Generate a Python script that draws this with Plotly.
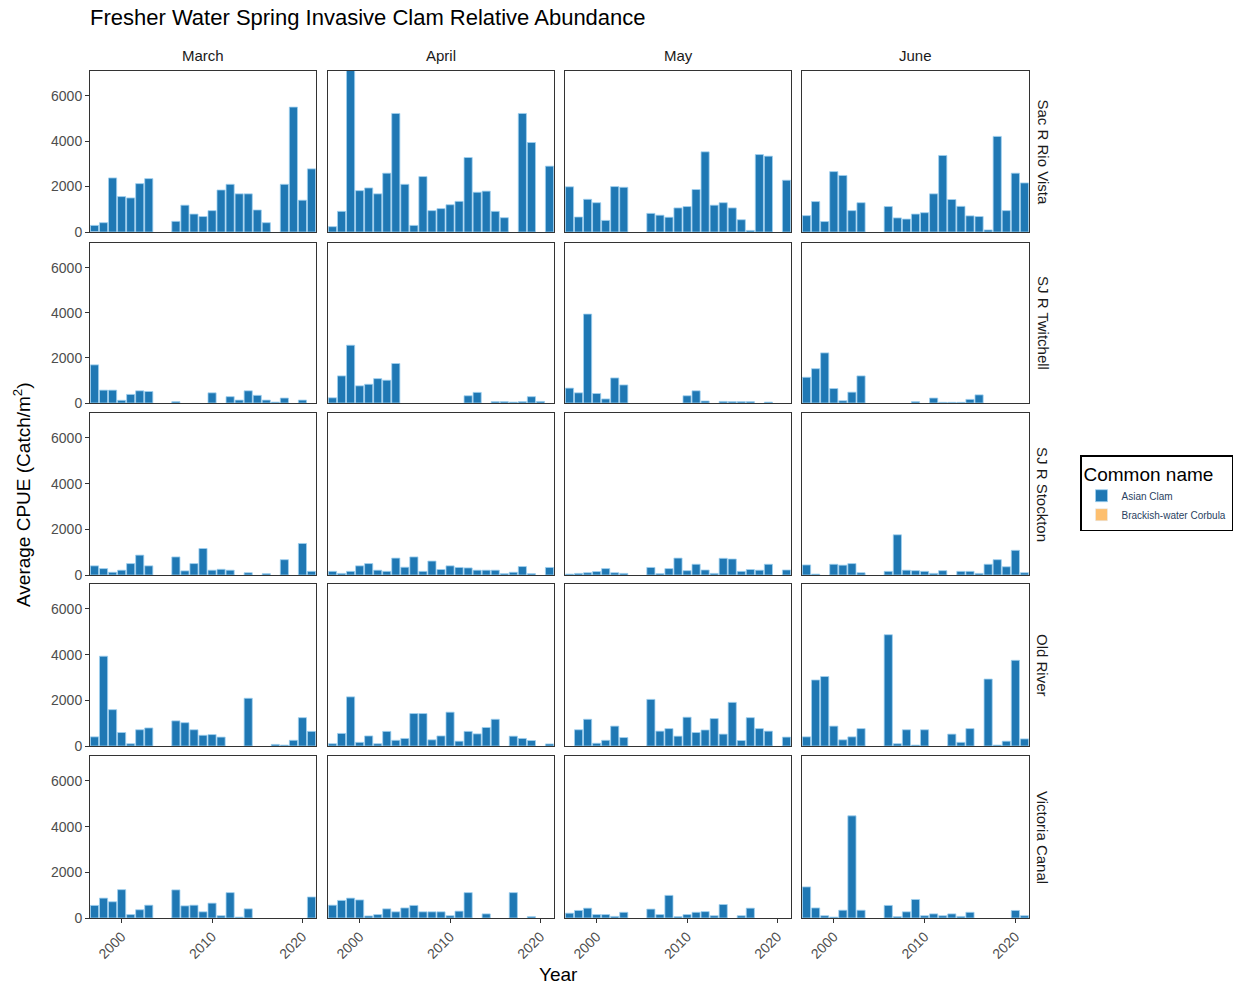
import plotly.graph_objects as go

years = list(range(1997, 2022))
months = ["March", "April", "May", "June"]
sites = ["Sac R Rio Vista", "SJ R Twitchell", "SJ R Stockton", "Old River", "Victoria Canal"]
N = None

sac_rio_vista = {
    "March": [290, 410, 2380, 1560, 1500, 2130, 2350, N, N, 470, 1180, 790, 680, 940, 1850, 2100, 1680, 1680, 970, 410, N, 2100, 5500, 1400, 2780],
    "April": [235, 910, 7200, 1820, 1940, 1680, 2590, 5220, 2100, 290, 2440, 940, 1030, 1200, 1350, 3280, 1750, 1800, 910, 630, N, 5220, 3940, N, 2900],
    "May":   [1990, 660, 1440, 1290, 510, 2000, 1970, N, N, 820, 740, 650, 1060, 1120, 1870, 3530, 1180, 1290, 1060, 540, 70, 3410, 3340, N, 2280],
    "June":  [720, 1340, 460, 2660, 2490, 940, 1290, N, N, 1120, 620, 570, 790, 850, 1680, 3370, 1430, 1130, 710, 680, 90, 4210, 940, 2590, 2160],
}
sj_twitchell = {
    "March": [1690, 570, 570, 120, 380, 540, 510, N, N, 60, N, N, N, 450, N, 280, 130, 540, 340, 130, 40, 220, N, 130, N],
    "April": [230, 1200, 2560, 760, 830, 1080, 1010, 1750, N, N, N, N, N, N, N, 320, 470, N, 60, 60, 40, 60, 280, 70, N],
    "May":   [660, 450, 3940, 420, 180, 1110, 800, N, N, N, N, N, N, 320, 540, 90, N, 70, 60, 60, 60, N, 40, N, N],
    "June":  [1140, 1520, 2220, 640, 100, 480, 1200, N, N, N, N, N, 60, N, 220, 30, 30, 30, 160, 360, N, N, N, N, N],
}
sj_stockton = {
    "March": [400, 280, 120, 210, 500, 870, 400, N, N, 790, 180, 500, 1160, 210, 250, 210, N, 100, N, 60, N, 670, N, 1380, 160],
    "April": [160, 70, 160, 400, 500, 210, 160, 740, 340, 790, 160, 610, 240, 400, 330, 310, 210, 210, 210, 60, 120, 370, 60, N, 330],
    "May":   [40, 70, 100, 150, 280, 100, 70, N, N, 330, 60, 280, 740, 190, 470, 220, 70, 730, 700, 160, 240, 210, 470, N, 220],
    "June":  [440, 40, N, 470, 430, 500, 100, N, N, 160, 1760, 210, 190, 160, 70, 190, N, 160, 160, 70, 470, 670, 360, 1080, 100],
}
old_river = {
    "March": [400, 3930, 1590, 590, 100, 710, 790, N, N, 1100, 1020, 710, 470, 500, 390, N, N, 2090, N, N, 70, 40, 250, 1240, 640],
    "April": [100, 550, 2150, 160, 440, 100, 640, 250, 330, 1420, 1420, 270, 440, 1480, 210, 640, 530, 810, 1170, N, 430, 330, 240, N, 90],
    "May":   [N, 710, 1170, 120, 250, 870, 370, N, N, 2040, 650, 760, 430, 1260, 590, 700, 1200, 520, 1910, 240, 1240, 760, 650, N, 390],
    "June":  [400, 2890, 3040, 870, 270, 400, 760, N, N, 4870, 100, 710, 40, 710, N, N, 520, 160, 760, N, 2930, 40, 210, 3750, 310],
}
victoria_canal = {
    "March": [550, 870, 710, 1240, 150, 360, 560, N, N, 1230, 530, 560, 270, 650, 100, 1110, 40, 400, N, N, N, N, N, N, 920],
    "April": [560, 770, 870, 790, 90, 150, 400, 270, 440, 550, 270, 270, 270, 100, 300, 1110, N, 180, N, N, 1110, N, 60, N, N],
    "May":   [210, 330, 430, 150, 150, 70, 250, N, N, 390, 150, 990, 60, 150, 250, 280, 100, 590, N, 100, 430, N, N, N, N],
    "June":  [1360, 440, 100, 40, 340, 4470, 340, N, N, 550, 60, 270, 810, 100, 180, 100, 180, 70, 250, N, N, N, N, 330, 100],
}
asian_clam = [sac_rio_vista, sj_twitchell, sj_stockton, old_river, victoria_canal]
corbula_years = [1997]
corbula_values = [0]

x_ticks = [2000, 2010, 2020]
y_ticks = [0, 2000, 4000, 6000]

W, H = 1228, 975
OX, OY = 8, 8
def px(x): return (x - OX) / W
def py(y): return 1 - (y - OY) / H

col_px = [(90, 316), (328, 554), (565, 791), (802, 1029)]
row_px = [(71, 232), (243, 403), (413, 575), (584, 746), (756, 918)]
BLUE = "#1F78B4"
ORANGE = "#FDBF6F"

fig = go.Figure()
layout = {}
ann = []
for r, site in enumerate(sites):
    for c, m in enumerate(months):
        k = r * 4 + c + 1
        xa = "x" if k == 1 else f"x{k}"
        ya = "y" if k == 1 else f"y{k}"
        fig.add_trace(go.Bar(x=years, y=asian_clam[r][m], xaxis=xa, yaxis=ya,
                             marker=dict(color=BLUE, line=dict(color="#9fd0f0", width=0.8)),
                             width=0.9, name="Asian Clam", legendgroup="a",
                             showlegend=(k == 1)))
        bottom = r == 4
        left = c == 0
        layout["xaxis" if k == 1 else f"xaxis{k}"] = dict(
            domain=[px(col_px[c][0]), px(col_px[c][1])], anchor=ya, range=[1996.5, 2021.5],
            tickvals=x_ticks, showticklabels=bottom, tickangle=-45, ticks="outside" if bottom else "",
            ticklen=4, tickcolor="#333", showgrid=False, zeroline=False, showline=True, mirror=True,
            linecolor="#333", linewidth=1, tickfont=dict(size=14, color="#4d4d4d"))
        layout["yaxis" if k == 1 else f"yaxis{k}"] = dict(
            domain=[py(row_px[r][1]), py(row_px[r][0])], anchor=xa, range=[0, 7090],
            tickvals=y_ticks, showticklabels=left, ticks="outside" if left else "", ticklen=4,
            tickcolor="#333", showgrid=False, zeroline=False, showline=True, mirror=True,
            linecolor="#333", linewidth=1, tickfont=dict(size=14, color="#4d4d4d"))
    ann.append(dict(text=site, x=px(1043), y=py((row_px[r][0] + row_px[r][1]) / 2),
                    xref="paper", yref="paper", showarrow=False, textangle=90,
                    xanchor="center", yanchor="middle", font=dict(size=15, color="#1a1a1a")))
for c, m in enumerate(months):
    ann.append(dict(text=m, x=px((col_px[c][0] + col_px[c][1]) / 2), y=py(55),
                    xref="paper", yref="paper", showarrow=False, xanchor="center", yanchor="middle",
                    font=dict(size=15, color="#1a1a1a")))

fig.add_trace(go.Bar(x=corbula_years, y=corbula_values, xaxis="x", yaxis="y",
                     marker=dict(color=ORANGE), name="Brackish-water Corbula", showlegend=True))

ann += [
    dict(text="Fresher Water Spring Invasive Clam Relative Abundance", x=px(88), y=py(18),
         xref="paper", yref="paper", xanchor="left", yanchor="middle", showarrow=False,
         font=dict(size=22, color="black")),
    dict(text="Average CPUE (Catch/m<sup>2</sup>)", x=px(22), y=py(495), xref="paper", yref="paper",
         textangle=-90, showarrow=False, xanchor="center", yanchor="middle", font=dict(size=19, color="black")),
    dict(text="Year", x=px(558), y=py(974), xref="paper", yref="paper", showarrow=False,
         xanchor="center", yanchor="middle", font=dict(size=19, color="black")),
]

fig.update_layout(**layout, annotations=ann, width=W, height=H,
                  margin=dict(l=0, r=0, t=0, b=0, autoexpand=False),
                  plot_bgcolor="white", paper_bgcolor="white", barmode="overlay",
                  font=dict(family="Liberation Sans, Arial, sans-serif"),
                  legend=dict(title=dict(text="Common name", font=dict(size=19, color="black")),
                              x=px(1080), y=py(455), xanchor="left", yanchor="top",
                              bordercolor="black", borderwidth=1.5, font=dict(size=10),
                              itemwidth=30, tracegroupgap=0))
fig.write_html("out.html")
